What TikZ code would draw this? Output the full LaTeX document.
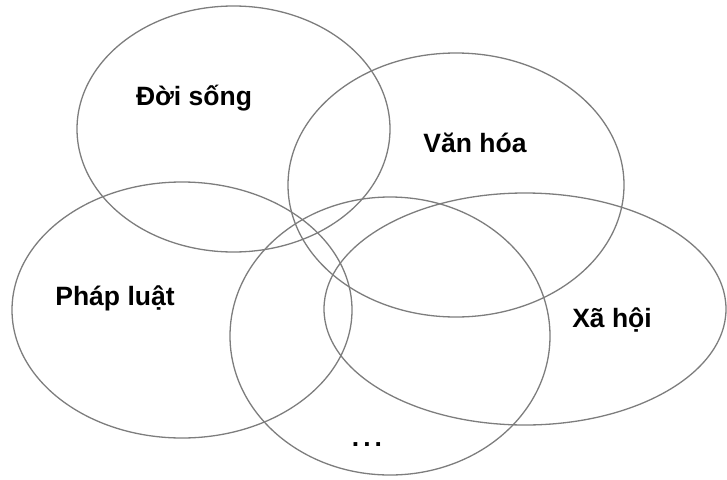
\documentclass[tikz,border=0pt]{standalone}
\usepackage{fontspec}
\setmainfont{Liberation Sans}
\definecolor{ringgrey}{RGB}{125,125,125}

\begin{document}
\begin{tikzpicture}[x=1pt,y=-1pt,
    ring/.style={ringgrey,line width=1.3pt},
    lbl/.style={font=\fontsize{26.5}{30}\selectfont\bfseries,text=black}]
        \useasboundingbox (0,0) rectangle (727,479);
        \draw[ring] (233.5,129) ellipse [x radius=156.5pt, y radius=123pt];
        \draw[ring] (456,185) ellipse [x radius=168pt, y radius=132pt];
        \draw[ring] (182,310) ellipse [x radius=170pt, y radius=128pt];
        \draw[ring] (390,336) ellipse [x radius=160pt, y radius=139pt];
        \draw[ring] (525,309) ellipse [x radius=201pt, y radius=116pt];
        \node[lbl] (doisong) at (194,98) {Đời sống};
        \node[lbl] (vanhoa) at (475,143) {Văn hóa};
        \node[lbl] (phapluat) at (115,298) {Pháp luật};
        \node[lbl] (xahoi) at (612,320) {Xã hội};
        \node[lbl] (khac) at (367,445) {.\kern4pt.\kern4pt.};
\end{tikzpicture}
\end{document}
